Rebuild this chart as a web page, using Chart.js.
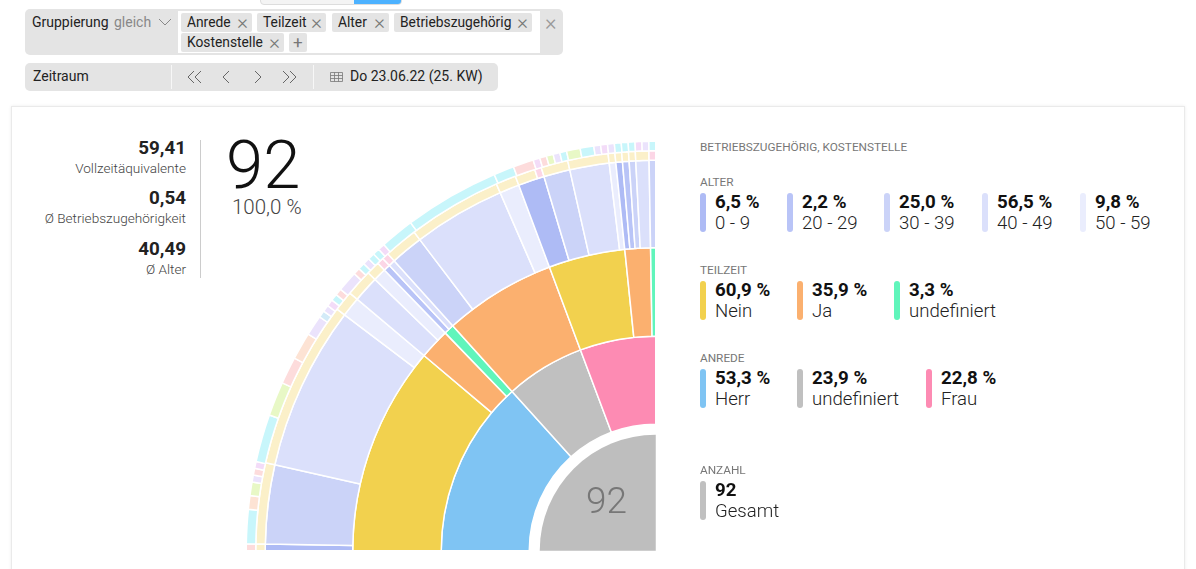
<!DOCTYPE html>
<html lang="de">
<head>
<meta charset="utf-8">
<title>Gruppierung</title>
<script src="https://cdn.jsdelivr.net/npm/chart.js@4"></script>
<style>
    html, body { margin: 0; background: #fff; overflow: hidden; }
    body { width: 1196px; height: 569px; position: relative; font-family: Roboto, sans-serif; color: #222; }
    .abs { position: absolute; white-space: nowrap; }
    .box { position: absolute; background: #e4e4e4; border-radius: 5px; }
    .chip { position: absolute; height: 19px; line-height: 18px; background: #e4e4e4; border-radius: 2px; font-size: 13.8px; padding-left: 6px; box-sizing: border-box; }
    .chip i { position: absolute; right: 4px; top: 0; font-style: normal; font-size: 21px; line-height: 18px; color: #777; font-weight: 300; }
    .card { position: absolute; left: 11px; top: 106px; width: 1172px; height: 480px; background: #fff; border: 1px solid #eaeaea; box-shadow: 0 0 3px rgba(0,0,0,.08); }
    .stat { position: absolute; right: 1010px; text-align: right; white-space: nowrap; }
    .stat b { display: block; font-size: 18.8px; line-height: 20px; font-weight: 700; color: #222; }
    .stat span { display: block; font-size: 13.6px; line-height: 20px; color: #444; font-weight: 300; }
    .sec { position: absolute; left: 700px; font-size: 11.8px; color: #777; white-space: nowrap; }
    .bar { position: absolute; width: 6px; height: 39px; border-radius: 3px; }
    .val { position: absolute; font-size: 18.7px; font-weight: 700; line-height: 20px; white-space: nowrap; color: #111; }
    .lab { position: absolute; font-size: 18.6px; font-weight: 300; line-height: 22px; white-space: nowrap; color: #222; }
    #ringWrap { position: absolute; left: 246px; top: 141px; width: 410px; height: 410px; }
</style>
</head>
<body>
    <div class="abs" style="left:260px;top:-6px;width:140px;height:9px;background:#f4f4f4;border:1px solid #ddd;border-radius:4px;overflow:hidden">
        <div style="position:absolute;left:93px;top:0;width:47px;height:9px;background:#4db2ff"></div>
    </div>

    <div class="box" style="left:25px;top:9px;width:538px;height:46px"></div>
    <div class="abs" style="left:178px;top:11px;width:362px;height:42px;background:#fff"></div>
    <div class="abs" style="left:32px;top:14px;font-size:14px">Gruppierung</div>
    <div class="abs" style="left:114px;top:14px;font-size:14px;color:#888">gleich</div>
    <svg class="abs" style="left:158px;top:12px" width="14" height="20"><path d="M1 7 L7 13 L13 7" fill="none" stroke="#888"/></svg>
    <div class="chip" style="left:181px;top:13px;width:71px">Anrede<i>×</i></div>
    <div class="chip" style="left:257px;top:13px;width:69px">Teilzeit<i>×</i></div>
    <div class="chip" style="left:332px;top:13px;width:57px">Alter<i>×</i></div>
    <div class="chip" style="left:394px;top:13px;width:138px">Betriebszugehörig<i>×</i></div>
    <div class="chip" style="left:181px;top:33px;width:103px">Kostenstelle<i>×</i></div>
    <div class="chip" style="left:289px;top:33px;width:18px;padding-left:4px;color:#777;font-size:17px">+</div>
    <div class="abs" style="left:545px;top:10px;font-size:22px;font-weight:300;color:#999">×</div>

    <div class="box" style="left:25px;top:63px;width:473px;height:28px"></div>
    <div class="abs" style="left:33px;top:68px;font-size:14px;line-height:17px">Zeitraum</div>
    <div class="abs" style="left:171px;top:65px;width:1px;height:24px;background:#f7f7f7"></div>
    <div class="abs" style="left:313px;top:65px;width:1px;height:24px;background:#f7f7f7"></div>
    <svg class="abs" style="left:185px;top:62px" width="125" height="31" fill="none" stroke="#666">
        <path d="M9 9 L3 15 L9 21 M16 9 L10 15 L16 21"/>
        <path d="M44 9 L38 15 L44 21"/>
        <path d="M70 9 L76 15 L70 21"/>
        <path d="M98 9 L104 15 L98 21 M105 9 L111 15 L105 21"/>
    </svg>
    <svg class="abs" style="left:330px;top:71px" width="14" height="12" fill="none" stroke="#777" stroke-width="0.8">
        <path d="M0.5 1.5 H12.5 V10.5 H0.5 Z M0.5 4.5 H12.5 M0.5 7.5 H12.5 M4.5 1.5 V10.5 M8.5 1.5 V10.5"/>
    </svg>
    <div class="abs" style="left:350px;top:68px;font-size:14px;line-height:17px">Do 23.06.22 (25. KW)</div>

    <div class="card"></div>

    <div class="stat" style="top:138px"><b>59,41</b><span>Vollzeitäquivalente</span></div>
    <div class="stat" style="top:188px"><b>0,54</b><span>Ø Betriebszugehörigkeit</span></div>
    <div class="stat" style="top:239px"><b>40,49</b><span>Ø Alter</span></div>
    <div class="abs" style="left:200px;top:140px;width:1px;height:138px;background:#ccc"></div>

    <div class="abs" style="left:226px;top:125px;font-size:67px;font-weight:300;line-height:80px;color:#111">92</div>
    <div class="abs" style="left:232px;top:196px;font-size:20.5px;font-weight:300;line-height:22px;color:#444">100,0 %</div>

    <div id="ringWrap"><canvas id="sunburst" width="410" height="410"></canvas></div>
    <div class="abs" style="left:586px;top:479px;font-size:37px;font-weight:300;line-height:44px;color:#777">92</div>

    <div id="legendArea"></div>

<script>
// Ring colours
const C = {
    herr: '#7fc4f3', undefGrey: '#c0c0c0', frau: '#fd8bb3',
    nein: '#f2d14e', ja: '#fbb06f', undef: '#60f5bb',
    a0: '#aebbf5', a20: '#b9c4f7', a30: '#cbd3f8', a40: '#dbe0fb', a50: '#eaedfd',
    beige: '#fbf0c9', rose: '#fcd6e6',
    cyan: '#c8f6fb', pink: '#fddcdc', peach: '#fde3d4', lime: '#e8f8c6',
    lav: '#ebe3fc', mauve: '#f3dcf8', sky: '#d3ebf8'
};

// Head counts per segment, rings from the centre outwards: [count, colour]
const anrede = [[49, C.herr], [22, C.undefGrey], [21, C.frau]];
const teilzeit = [[41, C.nein], [6, C.ja], [2, C.undef], [22, C.ja], [15, C.nein], [5, C.ja], [1, C.undef]];
const alter = [
    [1, C.a0], [12, C.a30], [25, C.a40], [3, C.a50],
    [4, C.a40], [2, C.a50],
    [1, C.a20], [1, C.a40],
    [5, C.a30], [14, C.a40], [3, C.a50],
    [4, C.a0], [4, C.a30], [6, C.a40], [1, C.a50],
    [1, C.a0], [1, C.a20], [1, C.a30], [2, C.a40], [1, C.a30]
];
const betrieb = [
    [1, C.beige], [12, C.beige], [25, C.beige], [3, C.beige], [4, C.beige], [2, C.beige],
    [1, C.rose], [1, C.rose],
    [5, C.beige], [14, C.beige], [3, C.beige], [3, C.beige], [1, C.rose],
    [4, C.beige], [6, C.beige], [1, C.beige], [1, C.beige], [1, C.beige], [1, C.beige], [2, C.beige], [1, C.rose]
];
const kostenstelle = [
    [1, C.pink], [5, C.cyan], [2, C.peach], [2, C.lime], [1, C.lav], [1, C.pink], [1, C.mauve],
    [7, C.cyan], [5, C.lime], [4, C.pink], [4, C.peach], [3, C.lav], [1, C.sky], [1, C.lav], [1, C.mauve],
    [1, C.cyan], [1, C.pink], [3, C.lav], [1, C.pink], [1, C.cyan], [1, C.lav], [1, C.cyan], [1, C.cyan], [1, C.mauve],
    [5, C.cyan], [14, C.cyan], [3, C.cyan],
    [3, C.pink], [1, C.mauve], [1, C.pink], [1, C.lime], [1, C.lav], [1, C.cyan], [2, C.lime], [2, C.cyan],
    [1, C.lav], [1, C.mauve], [1, C.lav], [1, C.cyan], [1, C.cyan], [1, C.cyan], [1, C.mauve], [1, C.lav], [1, C.cyan]
];

// Legend blocks on the right
const legendData = [
    { title: 'ALTER', y: 175, items: [
        { x: 700, val: '6,5 %', lab: '0 - 9', color: C.a0 },
        { x: 787, val: '2,2 %', lab: '20 - 29', color: C.a20 },
        { x: 884, val: '25,0 %', lab: '30 - 39', color: C.a30 },
        { x: 982, val: '56,5 %', lab: '40 - 49', color: C.a40 },
        { x: 1080, val: '9,8 %', lab: '50 - 59', color: C.a50 }
    ] },
    { title: 'TEILZEIT', y: 263, items: [
        { x: 700, val: '60,9 %', lab: 'Nein', color: C.nein },
        { x: 797, val: '35,9 %', lab: 'Ja', color: C.ja },
        { x: 894, val: '3,3 %', lab: 'undefiniert', color: C.undef }
    ] },
    { title: 'ANREDE', y: 351, items: [
        { x: 700, val: '53,3 %', lab: 'Herr', color: C.herr },
        { x: 797, val: '23,9 %', lab: 'undefiniert', color: C.undefGrey },
        { x: 926, val: '22,8 %', lab: 'Frau', color: C.frau }
    ] },
    { title: 'ANZAHL', y: 463, items: [
        { x: 700, val: '92', lab: 'Gesamt', color: C.undefGrey }
    ] }
];

function buildLegend() {
    const area = document.getElementById('legendArea');
    let html = '<div class="sec" style="top:140px">BETRIEBSZUGEHÖRIG, KOSTENSTELLE</div>';
    legendData.forEach(block => {
        html += `<div class="sec" style="top:${block.y}px">${block.title}</div>`;
        block.items.forEach(it => {
            html += `<div class="bar" style="left:${it.x}px;top:${block.y + 18}px;background:${it.color}"></div>`;
            html += `<div class="val" style="left:${it.x + 15}px;top:${block.y + 17}px">${it.val}</div>`;
            html += `<div class="lab" style="left:${it.x + 15}px;top:${block.y + 37}px">${it.lab}</div>`;
        });
    });
    area.innerHTML = html;
}

function ring(segments, weight) {
    return {
        data: segments.map(s => s[0]),
        backgroundColor: segments.map(s => s[1]),
        borderColor: '#fff',
        borderWidth: 1.5,
        weight: weight
    };
}

function drawSunburst() {
    const ctx = document.getElementById('sunburst');
    new Chart(ctx, {
        type: 'doughnut',
        data: {
            datasets: [
                ring(kostenstelle, 9.5),
                ring(betrieb, 9.5),
                ring(alter, 87.5),
                ring(teilzeit, 88.5),
                ring(anrede, 88),
                { data: [92], backgroundColor: 'transparent', borderWidth: 0, weight: 10.5 },
                { data: [92], backgroundColor: '#bebebe', borderWidth: 0, weight: 116 }
            ]
        },
        options: {
            responsive: false,
            animation: false,
            events: [],
            rotation: -90,
            circumference: 90,
            cutout: 0,
            radius: 409.5,
            plugins: { legend: { display: false }, tooltip: { enabled: false } }
        }
    });
}

buildLegend();
drawSunburst();
</script>
</body>
</html>
